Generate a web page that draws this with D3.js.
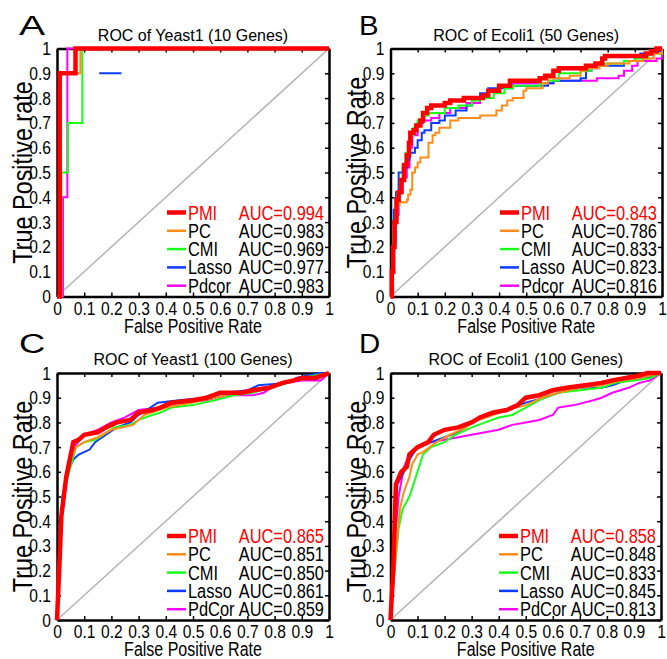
<!DOCTYPE html>
<html>
<head>
<meta charset="utf-8">
<script src="https://cdn.jsdelivr.net/npm/d3@7"></script>
<style>
  body { margin: 0; background: #fff; }
  svg { display: block; }
</style>
</head>
<body>
<svg id="fig" width="667" height="659"></svg>
<script>
// ROC curves, four panels. points are [FPR, TPR], null = gap in the drawn curve

const methods = ["PMI", "PC", "CMI", "Lasso", "Pdcor"];
const methodsCap = ["PMI", "PC", "CMI", "Lasso", "PdCor"];
const colors = ["#ff0000", "#ff8c1a", "#1aff1a", "#0a3cff", "#ff00ff"];
const ticks = [0, 0.1, 0.2, 0.3, 0.4, 0.5, 0.6, 0.7, 0.8, 0.9, 1];

// A: Yeast1 (10 genes)
const aucA = ["0.994", "0.983", "0.969", "0.977", "0.983"];
const A_PMI = [[0,0],[0.01,0],[0.01,0.9],[0.068,0.9],[0.068,1],[1,1]];
const A_PC = [[0,0],[0.012,0],[0.012,0.9],[0.086,0.9],[0.086,1],[1,1]];
const A_CMI = [[0,0],[0.016,0],[0.016,0.5],[0.04,0.5],[0.04,0.7],[0.093,0.7],[0.093,1],[1,1]];
const A_Lasso = [[0,0],[0.01,0],[0.01,0.9],[0.075,0.9],null,[0.155,0.9],[0.237,0.9],null,[0.2,1],[1,1]];
const A_Pdcor = [[0,0],[0.022,0],[0.022,0.4],[0.038,0.4],[0.038,1],[1,1]];

// B: Ecoli1 (50 genes)
const aucB = ["0.843", "0.786", "0.833", "0.823", "0.816"];
const B_PMI = [[0,0],[0.005,0.1],[0.01,0.2],[0.015,0.3],[0.022,0.39],[0.03,0.42],[0.04,0.47],[0.05,0.53],[0.06,0.57],[0.068,0.62],[0.073,0.66],[0.085,0.67],[0.095,0.69],[0.11,0.71],[0.12,0.74],[0.135,0.76],[0.15,0.77],[0.2,0.78],[0.22,0.79],[0.27,0.8],[0.34,0.81],[0.36,0.83],[0.4,0.85],[0.44,0.87],[0.55,0.88],[0.57,0.89],[0.6,0.91],[0.62,0.92],[0.72,0.93],[0.755,0.94],[0.78,0.96],[0.79,0.97],[0.94,0.98],[0.96,0.99],[0.98,1],[1,1]];
const B_PC = [[0,0],[0.005,0.1],[0.01,0.2],[0.015,0.3],[0.025,0.37],[0.033,0.38],[0.06,0.39],[0.065,0.41],[0.073,0.43],[0.08,0.5],[0.09,0.52],[0.1,0.54],[0.11,0.56],[0.14,0.62],[0.155,0.65],[0.165,0.66],[0.18,0.68],[0.22,0.71],[0.25,0.72],[0.33,0.73],[0.39,0.75],[0.41,0.77],[0.43,0.79],[0.45,0.8],[0.49,0.83],[0.5,0.84],[0.56,0.86],[0.58,0.88],[0.66,0.89],[0.7,0.91],[0.72,0.92],[0.77,0.93],[0.8,0.94],[0.88,0.95],[0.93,0.96],[0.97,0.98],[1,1]];
const B_CMI = [[0,0],[0.005,0.12],[0.01,0.25],[0.018,0.35],[0.025,0.42],[0.035,0.47],[0.045,0.53],[0.055,0.58],[0.065,0.62],[0.075,0.65],[0.085,0.68],[0.1,0.71],[0.12,0.73],[0.14,0.74],[0.2,0.76],[0.25,0.77],[0.3,0.79],[0.33,0.8],[0.38,0.82],[0.42,0.84],[0.45,0.85],[0.55,0.86],[0.58,0.87],[0.62,0.9],[0.7,0.91],[0.74,0.93],[0.78,0.94],[0.86,0.95],[0.9,0.96],[0.95,0.98],[1,1]];
const B_Lasso = [[0,0],[0.005,0.2],[0.012,0.35],[0.02,0.42],[0.03,0.5],[0.045,0.52],[0.06,0.55],[0.07,0.58],[0.09,0.6],[0.1,0.63],[0.115,0.66],[0.125,0.67],[0.15,0.7],[0.18,0.71],[0.2,0.73],[0.24,0.75],[0.28,0.77],[0.3,0.8],[0.33,0.82],[0.36,0.84],[0.45,0.85],[0.58,0.86],[0.6,0.87],[0.7,0.88],[0.72,0.91],[0.74,0.92],[0.76,0.93],[0.86,0.95],[0.9,0.97],[0.92,0.98],[0.97,0.99],[1,1]];
const B_Pdcor = [[0,0],[0.005,0.1],[0.01,0.22],[0.02,0.33],[0.03,0.42],[0.045,0.48],[0.06,0.52],[0.07,0.6],[0.08,0.65],[0.1,0.7],[0.12,0.71],[0.15,0.72],[0.18,0.74],[0.22,0.76],[0.28,0.78],[0.33,0.8],[0.36,0.83],[0.4,0.85],[0.45,0.86],[0.6,0.87],[0.74,0.87],[0.76,0.88],[0.84,0.89],[0.86,0.91],[0.89,0.93],[0.91,0.95],[0.98,0.96],[1,1]];

// C: Yeast1 (100 genes)
const aucC = ["0.865", "0.851", "0.850", "0.861", "0.859"];
const C_PMI = [[0,0],[0.008,0.2],[0.016,0.42],[0.025,0.5],[0.034,0.58],[0.047,0.65],[0.06,0.72],[0.08,0.73],[0.1,0.75],[0.15,0.76],[0.18,0.78],[0.22,0.8],[0.27,0.81],[0.3,0.84],[0.35,0.85],[0.38,0.86],[0.42,0.88],[0.5,0.89],[0.55,0.9],[0.6,0.92],[0.68,0.92],[0.72,0.93],[0.78,0.94],[0.83,0.96],[0.87,0.97],[0.9,0.98],[0.95,0.98],[1,1]];
const C_PC = [[0,0],[0.01,0.25],[0.02,0.45],[0.035,0.58],[0.05,0.65],[0.07,0.7],[0.1,0.72],[0.15,0.74],[0.2,0.77],[0.28,0.79],[0.32,0.83],[0.4,0.86],[0.5,0.88],[0.58,0.9],[0.65,0.92],[0.73,0.93],[0.8,0.95],[0.87,0.97],[0.95,0.98],[1,1]];
const C_CMI = [[0,0],[0.01,0.25],[0.02,0.45],[0.035,0.56],[0.045,0.6],[0.07,0.7],[0.1,0.72],[0.14,0.73],[0.17,0.75],[0.21,0.78],[0.27,0.79],[0.3,0.81],[0.35,0.83],[0.38,0.84],[0.42,0.86],[0.5,0.87],[0.58,0.89],[0.65,0.91],[0.72,0.92],[0.78,0.94],[0.85,0.96],[0.9,0.98],[1,1]];
const C_Lasso = [[0,0],[0.008,0.3],[0.02,0.5],[0.04,0.6],[0.06,0.65],[0.08,0.67],[0.12,0.69],[0.14,0.72],[0.18,0.75],[0.22,0.78],[0.27,0.8],[0.3,0.83],[0.33,0.85],[0.37,0.88],[0.45,0.89],[0.55,0.9],[0.62,0.92],[0.7,0.93],[0.74,0.95],[0.85,0.96],[0.88,0.98],[0.92,0.99],[0.97,1],[1,1]];
const C_PdCor = [[0,0],[0.01,0.28],[0.02,0.45],[0.035,0.58],[0.05,0.65],[0.07,0.71],[0.1,0.75],[0.15,0.77],[0.2,0.8],[0.25,0.82],[0.3,0.85],[0.38,0.86],[0.45,0.88],[0.55,0.89],[0.62,0.91],[0.72,0.91],[0.76,0.92],[0.8,0.95],[0.85,0.96],[0.9,0.97],[0.97,0.97],[1,1]];

// D: Ecoli1 (100 genes)
const aucD = ["0.858", "0.848", "0.833", "0.845", "0.813"];
const D_PMI = [[0,0],[0.01,0.2],[0.02,0.55],[0.04,0.6],[0.06,0.62],[0.07,0.67],[0.1,0.7],[0.14,0.72],[0.16,0.75],[0.2,0.77],[0.25,0.78],[0.3,0.8],[0.33,0.82],[0.38,0.84],[0.43,0.85],[0.47,0.87],[0.5,0.9],[0.55,0.91],[0.6,0.93],[0.65,0.94],[0.72,0.95],[0.78,0.96],[0.82,0.97],[0.87,0.98],[0.92,0.99],[0.95,1],[1,1]];
const D_PC = [[0,0],[0.015,0.2],[0.025,0.33],[0.035,0.45],[0.05,0.52],[0.07,0.58],[0.08,0.63],[0.1,0.67],[0.12,0.68],[0.17,0.72],[0.22,0.75],[0.28,0.78],[0.3,0.8],[0.38,0.83],[0.43,0.85],[0.5,0.87],[0.56,0.9],[0.62,0.92],[0.7,0.94],[0.78,0.95],[0.85,0.97],[0.92,0.98],[1,1]];
const D_CMI = [[0,0],[0.015,0.2],[0.03,0.37],[0.045,0.45],[0.07,0.5],[0.1,0.6],[0.12,0.67],[0.15,0.7],[0.2,0.72],[0.24,0.75],[0.3,0.78],[0.35,0.8],[0.4,0.82],[0.45,0.83],[0.5,0.86],[0.55,0.89],[0.62,0.92],[0.7,0.93],[0.78,0.94],[0.83,0.96],[0.9,0.97],[0.96,0.98],[1,1]];
const D_Lasso = [[0,0],[0.01,0.25],[0.025,0.55],[0.05,0.6],[0.07,0.65],[0.1,0.7],[0.15,0.72],[0.2,0.74],[0.25,0.76],[0.3,0.8],[0.35,0.83],[0.42,0.85],[0.45,0.86],[0.5,0.88],[0.57,0.9],[0.62,0.92],[0.7,0.94],[0.78,0.94],[0.82,0.95],[0.87,0.97],[0.95,0.98],[1,1]];
const D_PdCor = [[0,0],[0.01,0.25],[0.03,0.5],[0.05,0.62],[0.07,0.67],[0.1,0.7],[0.15,0.72],[0.2,0.73],[0.25,0.74],[0.3,0.75],[0.35,0.76],[0.4,0.77],[0.45,0.79],[0.5,0.8],[0.55,0.81],[0.6,0.83],[0.62,0.86],[0.68,0.87],[0.75,0.89],[0.78,0.9],[0.82,0.92],[0.88,0.94],[0.92,0.96],[0.96,0.97],[1,1]];

// no narrow face installed, so Liberation Sans gets squeezed via textLength
const SANS = '"Liberation Sans", Arial, sans-serif';
const SQ = 0.82;

const svg = d3.select("#fig");

let panels = [
  { letter: "A", title: "ROC of Yeast1 (10 Genes)", ylabel: "True Positive rate",
    box: [57, 329, 48.5, 296.5], names: methods, auc: aucA, curve: d3.curveLinear,
    series: [A_PMI, A_PC, A_CMI, A_Lasso, A_Pdcor], letterPos: [19, 35], letterSq: 1.4 },
  { letter: "B", title: "ROC of Ecoli1 (50 Genes)", ylabel: "True Positive Rate",
    box: [390.5, 662, 48.5, 296.5], names: methods, auc: aucB, curve: d3.curveStepAfter,
    series: [B_PMI, B_PC, B_CMI, B_Lasso, B_Pdcor], letterPos: [359, 35], letterSq: 1.05 },
  { letter: "C", title: "ROC of Yeast1 (100 Genes)", ylabel: "True Positive Rate",
    box: [57, 329, 373, 620], names: methodsCap, auc: aucC, curve: d3.curveLinear,
    series: [C_PMI, C_PC, C_CMI, C_Lasso, C_PdCor], letterPos: [19, 353], letterSq: 1.3 },
  { letter: "D", title: "ROC of Ecoli1 (100 Genes)", ylabel: "True Positive Rate",
    box: [390.5, 661, 373, 620], names: methodsCap, auc: aucD, curve: d3.curveLinear,
    series: [D_PMI, D_PC, D_CMI, D_Lasso, D_PdCor], letterPos: [359, 353], letterSq: 1.05 }
];

function fmtTick(d)
{
  return (d === 0 || d === 1) ? String(d) : d.toFixed(1);
}

// shrink a text element's advance to SQ of its natural width
function condense(sel)
{
  sel.each(function ()
  {
    let w = this.getComputedTextLength();
    if (w > 0)
    {
      d3.select(this)
        .attr("textLength", w * SQ)
        .attr("lengthAdjust", "spacingAndGlyphs");
    }
  });
}

function squeezed(g, x, y, str, size, anchor, fill, rot)
{
  let t = g.append("text")
    .attr("transform", `translate(${x},${y})` + (rot ? ` rotate(${rot})` : ""))
    .attr("text-anchor", anchor || "start")
    .style("font-family", SANS).style("font-size", size + "px")
    .style("fill", fill || "#000")
    .text(str);
  condense(t);
  return t;
}

function drawPanel(p)
{
  let [left, right, top, bottom] = p.box;
  let x = d3.scaleLinear().domain([0, 1]).range([left, right]);
  let y = d3.scaleLinear().domain([0, 1]).range([bottom, top]);
  let g = svg.append("g");

  // panel letter
  g.append("text")
    .attr("transform", `translate(${p.letterPos[0]},${p.letterPos[1]}) scale(${p.letterSq},1)`)
    .style("font-family", SANS).style("font-size", "28px")
    .text(p.letter);

  // title
  g.append("text")
    .attr("x", (left + right) / 2).attr("y", top - 8)
    .attr("text-anchor", "middle")
    .style("font-family", SANS).style("font-size", "16px")
    .text(p.title);

  // axes: labelled bottom/left, bare ticks top/right, all inward
  let axB = d3.axisBottom(x).tickValues(ticks).tickFormat(fmtTick).tickSizeInner(-4).tickSizeOuter(0).tickPadding(5);
  let axL = d3.axisLeft(y).tickValues(ticks).tickFormat(fmtTick).tickSizeInner(-4).tickSizeOuter(0).tickPadding(6);
  let axT = d3.axisTop(x).tickValues(ticks).tickFormat("").tickSizeInner(-4).tickSizeOuter(0);
  let axR = d3.axisRight(y).tickValues(ticks).tickFormat("").tickSizeInner(-4).tickSizeOuter(0);

  let axes = [
    g.append("g").attr("transform", `translate(0,${bottom})`).call(axB),
    g.append("g").attr("transform", `translate(${left},0)`).call(axL),
    g.append("g").attr("transform", `translate(0,${top})`).call(axT),
    g.append("g").attr("transform", `translate(${right},0)`).call(axR)
  ];
  axes.forEach(function (a)
  {
    a.select(".domain").style("stroke", "#000").style("stroke-width", 2.5);
    a.selectAll(".tick line").style("stroke", "#000").style("stroke-width", 1.5);
    let txt = a.selectAll("text")
      .style("font-family", SANS).style("font-size", "19px").style("fill", "#000");
    condense(txt);
  });

  // axis labels
  squeezed(g, (left + right) / 2, bottom + 36, "False Positive Rate", 19.5, "middle");
  squeezed(g, left - 25, (top + bottom) / 2, p.ylabel, 28.5, "middle", "#000", -90);

  // diagonal reference
  g.append("line")
    .attr("x1", x(0)).attr("y1", y(0)).attr("x2", x(1)).attr("y2", y(1))
    .style("stroke", "#b4b4b4").style("stroke-width", 1.5);

  // curves, PMI last so it sits on top
  let line = d3.line()
    .defined(function (d) { return d !== null; })
    .x(function (d) { return x(d[0]); })
    .y(function (d) { return y(d[1]); })
    .curve(p.curve);
  for (let i = p.series.length - 1; i >= 0; i--)
  {
    g.append("path")
      .attr("d", line(p.series[i]))
      .style("fill", "none")
      .style("stroke", colors[i])
      .style("stroke-width", i === 0 ? 4.5 : 2)
      .style("stroke-linejoin", "miter");
  }

  // legend (no box)
  let rowH = 18.3;
  let y0 = bottom - 84;
  p.names.forEach(function (name, i)
  {
    let ry = y0 + i * rowH;
    g.append("line")
      .attr("x1", right - 162).attr("x2", right - 143)
      .attr("y1", ry).attr("y2", ry)
      .style("stroke", colors[i]).style("stroke-width", i === 0 ? 4.5 : 2.5);
    let col = i === 0 ? "#ff0000" : "#000";
    squeezed(g, right - 141, ry + 7, name, 20, "start", col);
    squeezed(g, right - 5, ry + 7, "AUC=" + p.auc[i], 20, "end", col);
  });
}

panels.forEach(drawPanel);
</script>
</body>
</html>
